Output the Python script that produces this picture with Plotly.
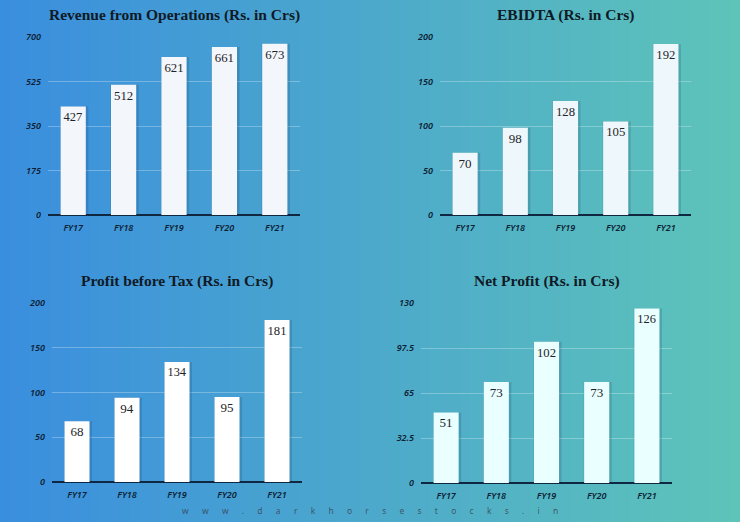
import plotly.graph_objects as go

years = ["FY17", "FY18", "FY19", "FY20", "FY21"]
revenue = [427, 512, 621, 661, 673]
ebidta = [70, 98, 128, 105, 192]
pbt = [68, 94, 134, 95, 181]
net_profit = [51, 73, 102, 73, 126]

titles = ["Revenue from Operations (Rs. in Crs)", "EBIDTA (Rs. in Crs)",
          "Profit before Tax (Rs. in Crs)", "Net Profit (Rs. in Crs)"]
rev_ticks = [0, 175, 350, 525, 700]
ebidta_ticks = [0, 50, 100, 150, 200]
pbt_ticks = [0, 50, 100, 150, 200]
np_ticks = [0, 32.5, 65, 97.5, 130]
np_ticklabels = ["0", "32.5", "65", "97.5", "130"]
watermark = "www.darkhorsestocks.in"

W, H = 740, 522
panels = [
    # data, ticks, ticktext, bar color, x0,x1,ytop,ybottom (pixels)
    (revenue, rev_ticks, None, "#f3f6fa", 48, 300, 37, 215),
    (ebidta, ebidta_ticks, None, "#eef8fc", 440, 691, 37, 215),
    (pbt, pbt_ticks, None, "#ffffff", 52, 302, 303, 482),
    (net_profit, np_ticks, np_ticklabels, "#eaffff", 421, 672, 303, 483),
]
title_y = [15, 15, 281, 281]

fig = go.Figure()

# background gradient
c0 = (0x3a, 0x8e, 0xde)
c1 = (0x5e, 0xc4, 0xb9)
N = 74
shapes = []
for i in range(N):
    t = (i + 0.5) / N
    col = "rgb(%d,%d,%d)" % tuple(round(a + (b - a) * t) for a, b in zip(c0, c1))
    xs0 = i / N if i > 0 else -0.05
    xs1 = (i + 1) / N + 0.002 if i < N - 1 else 1.05
    shapes.append(dict(type="rect", xref="paper", yref="paper", x0=xs0, x1=xs1,
                       y0=-0.05, y1=1.05, fillcolor=col, line=dict(width=0), layer="below"))

tickfont = dict(family="Noto Sans", size=9, color="#0d1f36", style="italic", weight=600)
annotations = []
for k, (vals, ticks, ttext, bcol, x0, x1, yt, yb) in enumerate(panels):
    sfx = "" if k == 0 else str(k + 1)
    xa = "x" + sfx
    ya = "y" + sfx
    # soft shadow
    fig.add_trace(go.Bar(x=years, y=vals, xaxis=xa, yaxis=ya,
                         marker=dict(color="rgba(10,40,70,0.16)", line=dict(width=0)),
                         width=0.56, offset=-0.26, hoverinfo="skip", showlegend=False))
    fig.add_trace(go.Bar(x=years, y=vals, xaxis=xa, yaxis=ya, marker=dict(color=bcol, line=dict(width=0)),
                         width=0.5, offset=-0.25,
                         text=[str(v) for v in vals], textposition="inside", insidetextanchor="end",
                         textangle=0,
                         textfont=dict(family="Liberation Serif", size=13, color="#1e2328"),
                         showlegend=False))
    fig.update_layout(**{
        ("xaxis" + sfx): dict(domain=[x0 / W, x1 / W], anchor=ya, showgrid=False, zeroline=False,
                              showline=False, ticks="", ticklabelstandoff=6, automargin=False,
                              tickfont=tickfont),
        ("yaxis" + sfx): dict(domain=[1 - yb / H, 1 - yt / H], anchor=xa, range=[0, ticks[-1]],
                              tickvals=ticks, ticktext=ttext if ttext else [str(v) for v in ticks],
                              showgrid=True, gridcolor="rgba(255,255,255,0.28)", gridwidth=1,
                              zeroline=True, zerolinecolor="#0f2740", zerolinewidth=1.5,
                              showline=False, ticks="", ticklabelstandoff=6, automargin=False,
                              tickfont=tickfont),
    })
    annotations.append(dict(text="<b>" + titles[k] + "</b>", xref="paper", yref="paper",
                            x=(x0 + x1) / 2 / W, y=1 - title_y[k] / H, xanchor="center", yanchor="middle",
                            showarrow=False, font=dict(family="Liberation Serif", size=15.5, color="#0f1a26")))

annotations.append(dict(text=("\u00a0" * 6).join(list(watermark)), xref="paper", yref="paper",
                        x=370 / W, y=1 - 510 / H, xanchor="center", yanchor="middle", showarrow=False,
                        font=dict(family="Noto Sans", size=8.5, color="rgba(55,65,80,0.8)")))

fig.update_layout(width=W, height=H, margin=dict(l=0, r=0, t=0, b=0, pad=0, autoexpand=False),
                  paper_bgcolor="#4ca9cb", plot_bgcolor="rgba(0,0,0,0)",
                  barmode="overlay", shapes=shapes, annotations=annotations, showlegend=False)

fig.write_html("out.html", config={"displayModeBar": False, "staticPlot": True},
               post_script="document.body.style.margin='0';document.body.style.overflow='hidden';")
